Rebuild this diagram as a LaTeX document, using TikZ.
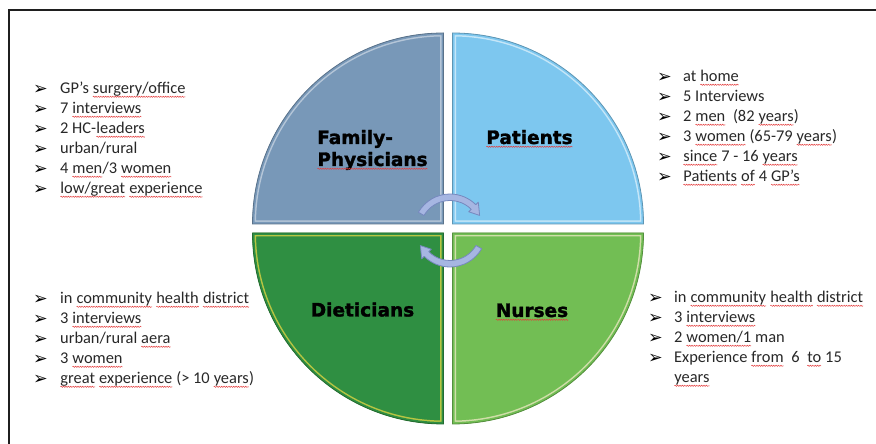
\documentclass[tikz,border=0pt]{standalone}
\usepackage{fontspec}
\usepackage{xcolor}
\usepackage{tikz}
\usetikzlibrary{decorations.pathmorphing}
\setmainfont{Carlito}
\newfontfamily\headfont{DejaVu Sans}[BoldFeatures={FakeBold=1.6}]

\definecolor{fpblue}{RGB}{120,152,184}
\definecolor{patblue}{RGB}{125,199,239}
\definecolor{dietgreen}{RGB}{47,143,66}
\definecolor{nursegreen}{RGB}{114,190,84}
\definecolor{cycfill}{RGB}{166,182,226}
\definecolor{cycline}{RGB}{118,136,190}
\definecolor{spellred}{RGB}{228,60,60}
\definecolor{textgray}{RGB}{40,40,40}

% red wavy underline
\newcommand{\sq}[1]{\tikz[baseline=(w.base)]{\node[inner sep=0pt, outer sep=0pt] (w) {#1};
  \draw[spellred, line width=0.5pt, decorate, decoration={snake, amplitude=0.6pt, segment length=2.4pt}]
    ([yshift=-2.8pt]w.base west) -- ([yshift=-2.8pt]w.base east);}}
% arrowhead bullet in a box of given width
\newcommand{\bul}[1]{\makebox[#1][l]{\raisebox{-0.8pt}{\headfont\fontsize{17.5}{17.5}\selectfont\color{black}➢}}}
% one quarter of the disc: corner, start angle, end angle, fill, rim
\newcommand{\piepart}[5]{%
  \begin{scope}
    \clip #1 -- ++(#2:191) arc (#2:#3:191) -- cycle;
    \fill[#4] #1 -- ++(#2:191) arc (#2:#3:191) -- cycle;
    \draw[#5, line width=7pt] #1 -- ++(#2:191) arc (#2:#3:191) -- cycle;
    \draw[#4, line width=4pt] #1 -- ++(#2:191) arc (#2:#3:191) -- cycle;
  \end{scope}
  \draw[#4!75!black, line width=0.8pt] #1 -- ++(#2:191) arc (#2:#3:191) -- cycle;}

\begin{document}
\begin{tikzpicture}[x=1pt,y=1pt,
  item/.style={anchor=base west, inner sep=0pt, text=textgray, font=\fontsize{16.4}{20}\selectfont},
  head/.style={inner sep=0pt, text=black, font=\headfont\bfseries\fontsize{18.5}{22}\selectfont},
  cycarrow/.style={fill=cycfill, draw=cycline, line width=0.8pt, line join=round}]
\fill[white] (0,0) rectangle (876,444);
\useasboundingbox (0,0) rectangle (876,444);
\draw[line width=2pt, color=black!88] (9,0) |- (876,434);

\piepart{(443.5,220)}{180}{90}{fpblue}{fpblue!55!white}
\piepart{(452.5,220)}{90}{0}{patblue}{patblue!45!white}
\piepart{(443.5,211)}{270}{180}{dietgreen}{yellow!60!dietgreen}
\piepart{(452.5,211)}{0}{-90}{nursegreen}{yellow!25!nursegreen!50!white}

\begin{scope}[shift={(450,213.5)}]
\foreach \r in {0,180}
  \filldraw[cycarrow, rotate=\r] (150:36.5) arc (150:45:36.5) -- (45:40) -- (27:33.25) -- (45:26.5) -- (45:30) arc (45:150:30) -- cycle;
\end{scope}

\node[head, anchor=base west] (fam) at (317,300) {Family-};
\node[head, anchor=base west] (phys) at (317,278) {\sq{Physicians}};
\node[head, anchor=base] (pat) at (529.5,300) {\sq{Patients}};
\node[head, anchor=base] (diet) at (362.5,127.5) {Dieticians};
\node[head, anchor=base] (nur) at (532,127) {\sq{Nurses}};

\node[item] (fp1) at (33,350) {\bul{27pt}GP's \sq{surgery/office}};
\node[item] (fp2) at (33,330) {\bul{27pt}7 \sq{interviews}};
\node[item] (fp3) at (33,310) {\bul{27pt}2 HC-\sq{leaders}};
\node[item] (fp4) at (33,290) {\bul{27pt}urban/rural};
\node[item] (fp5) at (33,270) {\bul{27pt}4 \sq{men}/3 \sq{women}};
\node[item] (fp6) at (33,250) {\bul{27pt}\sq{low/great} \sq{experience}};

\node[item] (pt1) at (657,362) {\bul{26pt}at \sq{home}};
\node[item] (pt2) at (657,342) {\bul{26pt}5 Interviews};
\node[item] (pt3) at (657,322) {\bul{26pt}2 \sq{men}\ \ (82 \sq{years})};
\node[item] (pt4) at (657,302) {\bul{26pt}3 \sq{women} (65-79 \sq{years})};
\node[item] (pt5) at (657,282) {\bul{26pt}\sq{since} 7 - 16 \sq{years}};
\node[item] (pt6) at (657,262) {\bul{26pt}\sq{Patients} \sq{of} 4 \sq{GP's}};

\node[item] (dt1) at (33,140) {\bul{27pt}in \sq{community} \sq{health} \sq{district}};
\node[item] (dt2) at (33,120) {\bul{27pt}3 \sq{interviews}};
\node[item] (dt3) at (33,100) {\bul{27pt}urban/rural \sq{aera}};
\node[item] (dt4) at (33,80) {\bul{27pt}3 \sq{women}};
\node[item] (dt5) at (33,60) {\bul{27pt}\sq{great} \sq{experience} (> 10 \sq{years})};

\node[item] (ns1) at (648,141) {\bul{26pt}in \sq{community} \sq{health} \sq{district}};
\node[item] (ns2) at (648,121) {\bul{26pt}3 \sq{interviews}};
\node[item] (ns3) at (648,101) {\bul{26pt}2 \sq{women/1} man};
\node[item] (ns4) at (648,81) {\bul{26pt}Experience \sq{from}\ \ 6\ \ \sq{to} 15};
\node[item] (ns5) at (648,61) {\hspace*{26pt}\sq{years}};
\end{tikzpicture}
\end{document}
